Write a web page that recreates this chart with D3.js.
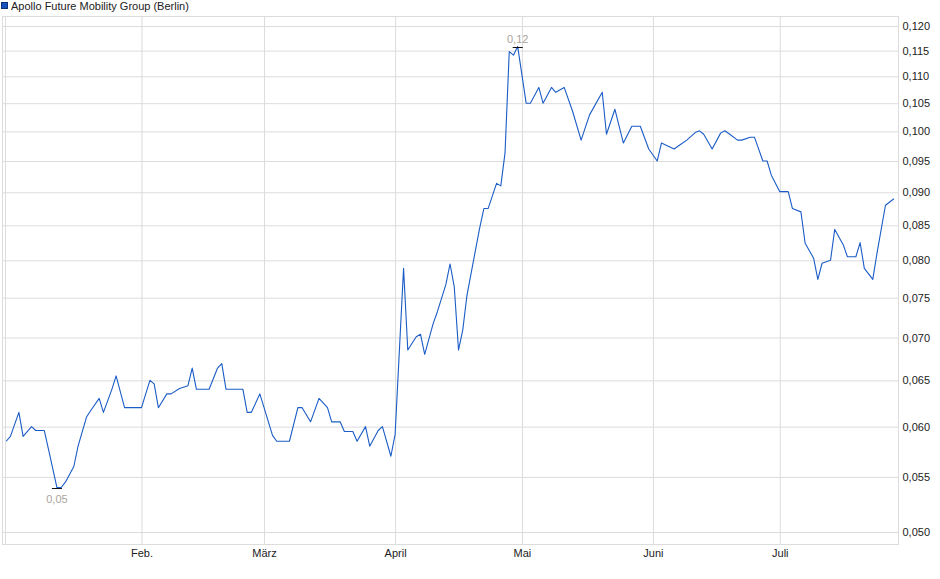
<!DOCTYPE html>
<html>
<head>
<meta charset="utf-8">
<script src="https://cdn.jsdelivr.net/npm/d3@7"></script>
<style>
  html, body { margin: 0; padding: 0; background: #fff; }
  svg { display: block; }
</style>
</head>
<body>
<div id="chart"></div>
<script>
/* Apollo Future Mobility Group (Berlin) — price line, log scale, Jan–Jul 2024 */
(function () {
  'use strict';

  const TITLE = 'Apollo Future Mobility Group (Berlin)';

  // Quotes
  const DATES = [
    '2023-12-31', '2024-01-01', '2024-01-03', '2024-01-04', '2024-01-06', '2024-01-07', '2024-01-09', '2024-01-10', '2024-01-12', '2024-01-13',
    '2024-01-14', '2024-01-16', '2024-01-17', '2024-01-19', '2024-01-20', '2024-01-22', '2024-01-23', '2024-01-25', '2024-01-26', '2024-01-28',
    '2024-02-01', '2024-02-03', '2024-02-04', '2024-02-05', '2024-02-07', '2024-02-08', '2024-02-10', '2024-02-12', '2024-02-13', '2024-02-14',
    '2024-02-17', '2024-02-19', '2024-02-20', '2024-02-21', '2024-02-25', '2024-02-26', '2024-02-27', '2024-02-29', '2024-03-01', '2024-03-03',
    '2024-03-04', '2024-03-07', '2024-03-09', '2024-03-10', '2024-03-12', '2024-03-14', '2024-03-16', '2024-03-17', '2024-03-19', '2024-03-20',
    '2024-03-22', '2024-03-23', '2024-03-25', '2024-03-26', '2024-03-28', '2024-03-29', '2024-03-31', '2024-04-01', '2024-04-03', '2024-04-04',
    '2024-04-06', '2024-04-07', '2024-04-08', '2024-04-10', '2024-04-11', '2024-04-13', '2024-04-14', '2024-04-15', '2024-04-16', '2024-04-17',
    '2024-04-18', '2024-04-20', '2024-04-21', '2024-04-22', '2024-04-23', '2024-04-25', '2024-04-26', '2024-04-27', '2024-04-28', '2024-04-29',
    '2024-04-30', '2024-05-02', '2024-05-03', '2024-05-05', '2024-05-06', '2024-05-08', '2024-05-09', '2024-05-11', '2024-05-13', '2024-05-15',
    '2024-05-17', '2024-05-20', '2024-05-21', '2024-05-23', '2024-05-25', '2024-05-27', '2024-05-29', '2024-05-31', '2024-06-02', '2024-06-03',
    '2024-06-06', '2024-06-07', '2024-06-09', '2024-06-11', '2024-06-12', '2024-06-13', '2024-06-15', '2024-06-17', '2024-06-18', '2024-06-19',
    '2024-06-21', '2024-06-22', '2024-06-24', '2024-06-25', '2024-06-27', '2024-06-28', '2024-06-29', '2024-07-01', '2024-07-03', '2024-07-04',
    '2024-07-06', '2024-07-07', '2024-07-09', '2024-07-10', '2024-07-11', '2024-07-13', '2024-07-14', '2024-07-16', '2024-07-17', '2024-07-19',
    '2024-07-20', '2024-07-21', '2024-07-23', '2024-07-24', '2024-07-26', '2024-07-28'
  ];
  const PRICES = [
    0.0585, 0.0590, 0.0615, 0.0590, 0.0600, 0.0596, 0.0596, 0.0577, 0.0540, 0.0540,
    0.0545, 0.0560, 0.0580, 0.0610, 0.0617, 0.0630, 0.0615, 0.0640, 0.0655, 0.0620,
    0.0620, 0.0650, 0.0646, 0.0620, 0.0635, 0.0635, 0.0641, 0.0644, 0.0664, 0.0640,
    0.0640, 0.0664, 0.0669, 0.0640, 0.0640, 0.0615, 0.0615, 0.0635, 0.0620, 0.0591,
    0.0585, 0.0585, 0.0620, 0.0620, 0.0605, 0.0630, 0.0620, 0.0605, 0.0605, 0.0595,
    0.0595, 0.0585, 0.0600, 0.0580, 0.0596, 0.0600, 0.0570, 0.0592, 0.0789, 0.0685,
    0.0701, 0.0704, 0.0680, 0.0717, 0.0732, 0.0767, 0.0795, 0.0764, 0.0685, 0.0709,
    0.0753, 0.0814, 0.0846, 0.0875, 0.0875, 0.0914, 0.0910, 0.0963, 0.1148, 0.1141,
    0.1158, 0.1050, 0.1050, 0.1079, 0.1050, 0.1079, 0.1070, 0.1079, 0.1035, 0.0985,
    0.1029, 0.1070, 0.0995, 0.1039, 0.0980, 0.1009, 0.1009, 0.0970, 0.0950, 0.0980,
    0.0970, 0.0975, 0.0985, 0.0998, 0.1001, 0.0995, 0.0970, 0.0997, 0.1001, 0.0996,
    0.0985, 0.0985, 0.0990, 0.0990, 0.0950, 0.0950, 0.0927, 0.0901, 0.0901, 0.0875,
    0.0870, 0.0824, 0.0803, 0.0774, 0.0796, 0.0800, 0.0844, 0.0822, 0.0805, 0.0805,
    0.0825, 0.0789, 0.0774, 0.0810, 0.0880, 0.0890
  ];

  const Y_TICKS = [0.050, 0.055, 0.060, 0.065, 0.070, 0.075, 0.080, 0.085, 0.090, 0.095, 0.100, 0.105, 0.110, 0.115, 0.120];
  const MONTH_TICKS = ['2024-02-01', '2024-03-01', '2024-04-01', '2024-05-01', '2024-06-01', '2024-07-01'];
  const MONTH_LABELS = ['Feb.', 'März', 'April', 'Mai', 'Juni', 'Juli'];
  const X_DOMAIN = ['2023-12-30T03:00', '2024-07-29T02:00'];
  const Y_DOMAIN = [0.04893, 0.12199];

  const W = 940, H = 579;
  const box = { left: 2.5, right: 898.5, top: 16.5, bottom: 544.5 };
  const FONT = '"Liberation Sans", Arial, sans-serif';
  const GRID = '#dcdcdc';
  const LINE = '#1b5cc6';

  const parseDay = d3.timeParse('%Y-%m-%d');
  const parseStamp = d3.timeParse('%Y-%m-%dT%H:%M');
  const data = DATES.map((d, i) => ({ date: parseDay(d), value: PRICES[i] }));
  const comma = (fmt) => (v) => d3.format(fmt)(v).replace('.', ',');

  const x = d3.scaleTime()
    .domain(X_DOMAIN.map(parseStamp))
    .range([box.left, box.right]);
  const y = d3.scaleLog()
    .domain(Y_DOMAIN)
    .range([box.bottom, box.top]);

  const svg = d3.select('#chart').append('svg')
    .attr('width', W).attr('height', H)
    .attr('viewBox', `0 0 ${W} ${H}`)
    .style('font-family', FONT);

  // legend
  svg.append('rect')
    .attr('x', 1.5).attr('y', 2.5).attr('width', 6).attr('height', 6)
    .attr('fill', '#1a52bd').attr('stroke', '#0c2f78').attr('stroke-width', 1);
  svg.append('text')
    .attr('x', 11).attr('y', 10)
    .attr('font-size', 11).attr('fill', '#222')
    .text(TITLE);

  // horizontal grid + right labels
  const yAxis = svg.append('g')
    .attr('transform', `translate(${box.right},0)`)
    .call(d3.axisRight(y).tickValues(Y_TICKS).tickFormat(comma('.3f'))
      .tickSize(-(box.right - box.left)).tickPadding(4));
  yAxis.select('.domain').remove();
  yAxis.selectAll('line').attr('stroke', GRID);
  yAxis.selectAll('text').attr('font-size', 11).attr('fill', '#222')
    .attr('font-family', FONT);

  // month grid + bottom labels
  const xAxis = svg.append('g')
    .attr('transform', `translate(0,${box.bottom})`)
    .call(d3.axisBottom(x).tickValues(MONTH_TICKS.map(parseDay))
      .tickFormat((d, i) => MONTH_LABELS[i])
      .tickSize(-(box.bottom - box.top)).tickPadding(5));
  xAxis.select('.domain').remove();
  xAxis.selectAll('line').attr('stroke', GRID);
  xAxis.selectAll('text').attr('font-size', 11).attr('fill', '#222')
    .attr('font-family', FONT);

  // frame (with the inner left rule)
  svg.append('rect')
    .attr('x', box.left).attr('y', box.top)
    .attr('width', box.right - box.left).attr('height', box.bottom - box.top)
    .attr('fill', 'none').attr('stroke', GRID);
  svg.append('line')
    .attr('x1', box.left + 3).attr('x2', box.left + 3)
    .attr('y1', box.top).attr('y2', box.bottom)
    .attr('stroke', GRID);

  // price line
  svg.append('path')
    .datum(data)
    .attr('fill', 'none')
    .attr('stroke', LINE)
    .attr('stroke-width', 1.1)
    .attr('stroke-linejoin', 'round')
    .attr('d', d3.line().x(d => x(d.date)).y(d => y(d.value)));

  // high / low markers
  const hi = data[d3.maxIndex(data, d => d.value)];
  const lo = data[d3.minIndex(data, d => d.value)];
  [[hi, -5], [lo, 14]].forEach(([p, dy]) => {
    const px = x(p.date), py = Math.round(y(p.value)) + 0.5;
    svg.append('line')
      .attr('x1', px - 5).attr('x2', px + 5)
      .attr('y1', py).attr('y2', py)
      .attr('stroke', '#111').attr('stroke-width', 1);
    svg.append('text')
      .attr('x', px).attr('y', py + dy)
      .attr('text-anchor', 'middle')
      .attr('font-size', 11).attr('fill', '#aaa49c')
      .text(comma('.2f')(p.value));
  });
})();
</script>
</body>
</html>
